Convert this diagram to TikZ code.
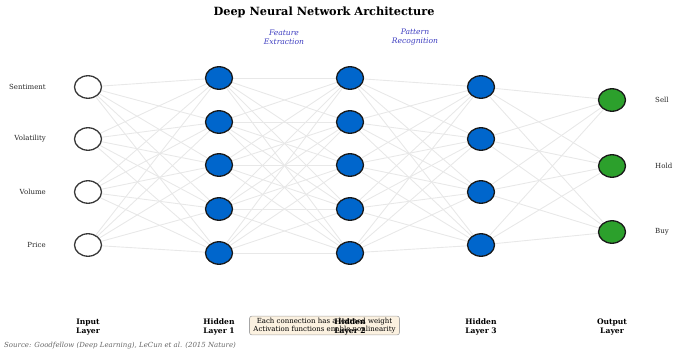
\documentclass[tikz,border=0pt]{standalone}
\usepackage{fontspec}
\setmainfont{DejaVu Serif}
\usetikzlibrary{shapes.geometric}
\pgfdeclarelayer{bg}
\pgfsetlayers{bg,main}
\definecolor{hidblue}{HTML}{0066CC}
\definecolor{outgreen}{HTML}{2CA02C}
\definecolor{phaseblue}{HTML}{3C3CC0}
\definecolor{notefill}{HTML}{FBF1E0}
\begin{document}
\begin{tikzpicture}[x=1pt,y=-1pt,
  neuron/.style={ellipse,minimum width=27pt,minimum height=22.5pt,inner sep=0pt,line width=1.3pt},
  inputn/.style={neuron,draw=black!78,fill=white},
  hiddenn/.style={neuron,draw=black!90,fill=hidblue},
  outputn/.style={neuron,draw=black!90,fill=outgreen},
  link/.style={draw=black!9,line width=0.9pt},
  featlabel/.style={font=\fontsize{7}{7}\selectfont,anchor=east,inner sep=0pt,text=black!85},
  layerlabel/.style={font=\fontsize{7.6}{8.2}\selectfont\bfseries,align=center},
  phase/.style={font=\fontsize{7.6}{8.8}\selectfont\itshape,text=phaseblue,align=center},
  noteb/.style={draw=black!35,fill=notefill,rounded corners=2.5pt,line width=0.6pt,
    font=\fontsize{7}{8}\selectfont,align=center,inner xsep=4pt,inner ysep=2pt}
]
\useasboundingbox (0,0) rectangle (674,351);

% title and stage captions
\node[font=\fontsize{11.3}{13}\selectfont\bfseries] (title) at (324,12) {Deep Neural Network Architecture};
\node[phase] (feat) at (284,37) {Feature\\Extraction};
\node[phase] (patt) at (415,37) {Pattern\\Recognition};

% neurons
\foreach \y [count=\i] in {87,139,192,245} \node[inputn] (a\i) at (88,\y) {};
\foreach \y [count=\i] in {78,122,165,209,253} \node[hiddenn] (b\i) at (219,\y) {};
\foreach \y [count=\i] in {78,122,165,209,253} \node[hiddenn] (c\i) at (350,\y) {};
\foreach \y [count=\i] in {87,139,192,245} \node[hiddenn] (d\i) at (481,\y) {};
\foreach \y [count=\i] in {100,166,232} \node[outputn] (e\i) at (612,\y) {};

% fully connected weights, behind the neurons
\begin{pgfonlayer}{bg}
\foreach \i in {1,...,4} \foreach \j in {1,...,5} \draw[link] (a\i) -- (b\j);
\foreach \i in {1,...,5} \foreach \j in {1,...,5} \draw[link] (b\i) -- (c\j);
\foreach \i in {1,...,5} \foreach \j in {1,...,4} \draw[link] (c\i) -- (d\j);
\foreach \i in {1,...,4} \foreach \j in {1,...,3} \draw[link] (d\i) -- (e\j);
\end{pgfonlayer}

% input features
\node[featlabel] (f1) at (46,87) {Sentiment};
\node[featlabel] (f2) at (46,139) {Volatility};
\node[featlabel] (f3) at (46,192) {Volume};
\node[featlabel] (f4) at (46,245) {Price};

% output decisions
\node[featlabel,anchor=west] (o1) at (655,100) {Sell};
\node[featlabel,anchor=west] (o2) at (655,166) {Hold};
\node[featlabel,anchor=west] (o3) at (655,232) {Buy};

% note box (the middle layer name is printed over it)
\node[noteb] (note) at (324.5,325.5) {Each connection has a learned weight\\Activation functions enable nonlinearity};

% layer names
\node[layerlabel] (l1) at (88,327) {Input\\Layer};
\node[layerlabel] (l2) at (219,327) {Hidden\\Layer 1};
\node[layerlabel] (l3) at (350,327) {Hidden\\Layer 2};
\node[layerlabel] (l4) at (481,327) {Hidden\\Layer 3};
\node[layerlabel] (l5) at (612,327) {Output\\Layer};

% source line
\node[anchor=west,inner sep=0pt,font=\fontsize{7}{7}\selectfont\itshape,text=black!60] (src) at (4,346) {Source: Goodfellow (Deep Learning), LeCun et al. (2015 Nature)};
\end{tikzpicture}
\end{document}
